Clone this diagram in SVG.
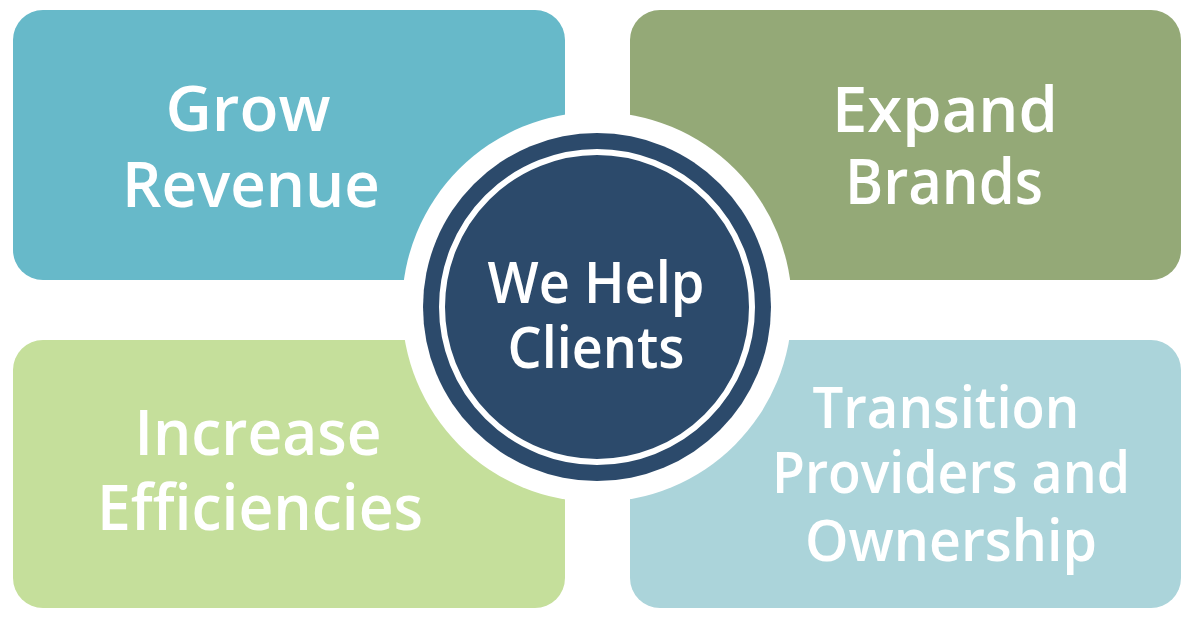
<svg xmlns="http://www.w3.org/2000/svg" width="1200" height="619" viewBox="0 0 1200 619">
<style>
.t{font-family:"Open Sans","Noto Sans",sans-serif;font-weight:600;fill:#ffffff;text-anchor:middle}
.big{font-size:64px}
.mid{font-size:57px}
.ctr{font-size:57px}
</style>
<rect x="0" y="0" width="1200" height="619" fill="#ffffff"/>
<g id="grow-revenue">
<rect x="13" y="10" width="552" height="270" rx="30" fill="#67B9C9"/>
<text class="t big" x="248" y="131" textLength="165" lengthAdjust="spacingAndGlyphs">Grow</text>
<text class="t big" x="251" y="207" textLength="258" lengthAdjust="spacingAndGlyphs">Revenue</text>
</g>
<g id="expand-brands">
<rect x="630" y="10" width="551" height="270" rx="30" fill="#94A977"/>
<text class="t big" x="945" y="132" textLength="226" lengthAdjust="spacingAndGlyphs">Expand</text>
<text class="t big" x="944" y="204" textLength="198" lengthAdjust="spacingAndGlyphs">Brands</text>
</g>
<g id="increase-efficiencies">
<rect x="13" y="340" width="552" height="268" rx="30" fill="#C5DF9B"/>
<text class="t big" x="258" y="455" textLength="247" lengthAdjust="spacingAndGlyphs">Increase</text>
<text class="t big" x="260" y="530" textLength="326" lengthAdjust="spacingAndGlyphs">Efficiencies</text>
</g>
<g id="transition">
<rect x="630" y="340" width="551" height="268" rx="30" fill="#ABD4DA"/>
<text class="t mid" x="946" y="428" textLength="267" lengthAdjust="spacingAndGlyphs">Transition</text>
<text class="t mid" x="951" y="493" textLength="358" lengthAdjust="spacingAndGlyphs">Providers and</text>
<text class="t mid" x="951" y="561" textLength="292" lengthAdjust="spacingAndGlyphs">Ownership</text>
</g>
<g id="we-help-clients">
<circle cx="597" cy="307" r="195" fill="#ffffff"/>
<circle cx="597" cy="307" r="174" fill="#2C4A6B"/>
<circle cx="597" cy="307" r="155" fill="none" stroke="#ffffff" stroke-width="6"/>
<text class="t ctr" x="596" y="303" textLength="217" lengthAdjust="spacingAndGlyphs">We Help</text>
<text class="t ctr" x="596" y="368" textLength="177" lengthAdjust="spacingAndGlyphs">Clients</text>
</g>
<g id="connectors"></g>
</svg>
